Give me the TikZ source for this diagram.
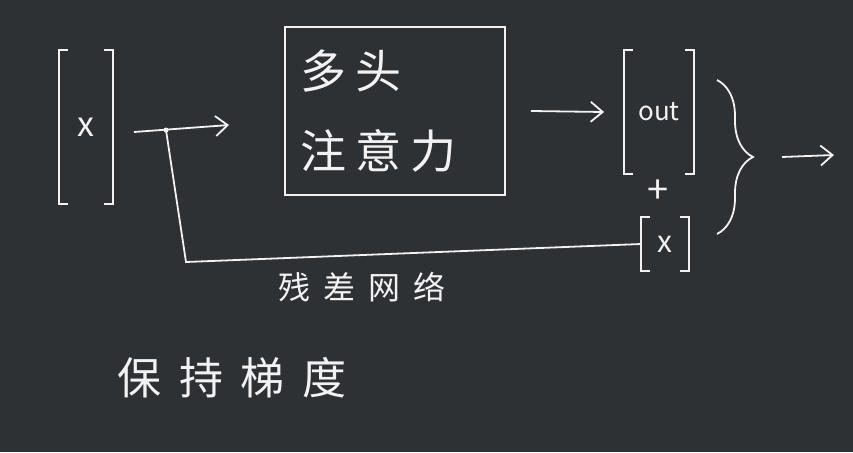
\documentclass[tikz,border=0pt]{standalone}
\usepackage{fontspec}
\setmainfont{Noto Sans CJK SC}
\newfontfamily\cjk[LetterSpace=20]{Noto Sans CJK SC}
\newfontfamily\cjkwide[LetterSpace=40]{Noto Sans CJK SC}
\usepackage{xcolor}
\usetikzlibrary{arrows.meta,positioning,decorations.pathreplacing}
\definecolor{board}{HTML}{2D3134}
\definecolor{chalk}{HTML}{F2F2F2}
% square brackets round a vector node
\newcommand{\vbrk}[1]{%
  \draw ([xshift=9pt]#1.north west) -| (#1.south west) -- ([xshift=9pt]#1.south west);
  \draw ([xshift=-9pt]#1.north east) -| (#1.south east) -- ([xshift=-9pt]#1.south east);}

\begin{document}
\begin{tikzpicture}[x=1pt,y=-1pt,line width=1.8pt,color=chalk,
  arr/.style={-{Straight Barb[length=12pt,width=20pt]}},
  vec/.style={inner sep=0pt}]
\fill[board] (0,0) rectangle (853,452);
% input, attention block, output
\node[vec,minimum width=52pt,minimum height=152pt,font={\fontsize{34}{34}\selectfont}] (xvec) at (86,127) {x};
\vbrk{xvec}
\node[draw,minimum width=220pt,minimum height=168pt,text width=190pt,align=left,
  font={\cjk\fontsize{46}{80}\selectfont}] (attn) at (395,111) {多头\\注意力};
\node[vec,minimum width=68pt,minimum height=122pt,font={\fontsize{26}{26}\selectfont}] (outvec) at (659,112) {out};
\vbrk{outvec}
\node[font={\fontsize{38}{38}\selectfont}] (plus) at (658,192) {+};
\node[vec,minimum width=46pt,minimum height=52pt,font={\fontsize{30}{30}\selectfont}] (xsmall) at (665,244) {x};
\vbrk{xsmall}
% connectors
\coordinate (a0) at (134,132);
\coordinate (a1) at (229,125);
\coordinate (split) at (166,130);
\coordinate (bend) at (186,262);
\draw[arr] (a0) -- (a1);
\fill (split) circle (2.5);
\draw (split) -- (bend) -- (xsmall.west);
\draw[arr] ([xshift=25pt]attn.east) -- ([xshift=-20pt]outvec.west);
\draw[decorate,decoration={brace,amplitude=36pt}] (717,80) -- (717,234);
\coordinate (b0) at (782,157);
\coordinate (b1) at (834,155);
\draw[arr] (b0) -- (b1);
% labels
\node[font={\cjkwide\fontsize{32}{32}\selectfont}] (resid) at (362,287) {残差网络};
\node[font={\cjkwide\fontsize{44}{44}\selectfont}] (keep) at (232,378) {保持梯度};
\end{tikzpicture}
\end{document}
